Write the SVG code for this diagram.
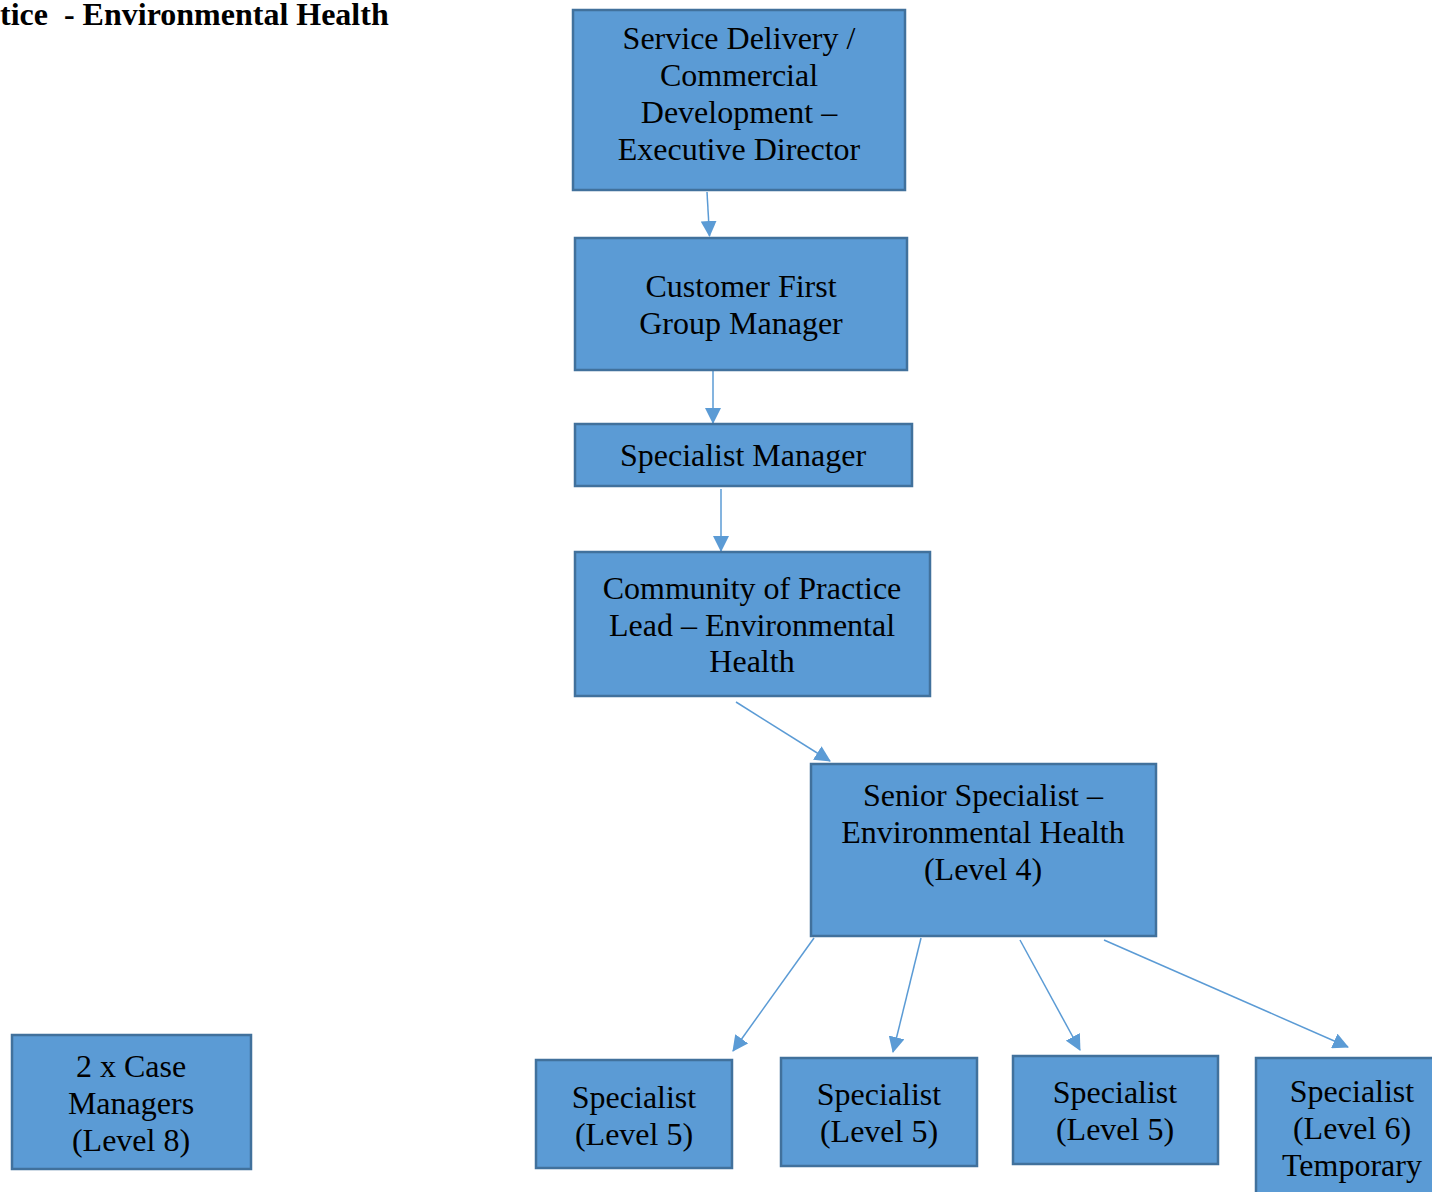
<svg xmlns="http://www.w3.org/2000/svg" width="1432" height="1192" viewBox="0 0 1432 1192">
<style>
.box{fill:#5B9BD5;stroke:#41719C;stroke-width:2.5}
.t{font-family:"Liberation Serif","Times New Roman",serif;font-size:32px;fill:#000;text-anchor:middle}
.title{font-family:"Liberation Serif","Times New Roman",serif;font-size:32px;font-weight:bold;fill:#000}
.c{stroke:#5B9BD5;stroke-width:1.5;fill:none;marker-end:url(#ah)}
</style>
<defs>
<marker id="ah" markerUnits="userSpaceOnUse" markerWidth="16" markerHeight="16" viewBox="0 0 16 16" refX="15" refY="8" orient="auto">
<path d="M0,0 L16,8 L0,16 Z" fill="#5B9BD5"/>
</marker>
</defs>
<rect width="1432" height="1192" fill="#fff"/>
<text class="title" x="0" y="25" xml:space="preserve">tice  - Environmental Health</text>
<g id="connectors">
<line class="c" x1="707" y1="192" x2="709.5" y2="236"/>
<line class="c" x1="713" y1="371" x2="713" y2="423"/>
<line class="c" x1="721" y1="489" x2="721" y2="551"/>
<line class="c" x1="736" y1="702" x2="830" y2="761"/>
<line class="c" x1="814" y1="938" x2="733" y2="1051"/>
<line class="c" x1="921" y1="938" x2="893" y2="1052"/>
<line class="c" x1="1020" y1="940" x2="1080" y2="1050"/>
<line class="c" x1="1104" y1="940" x2="1348" y2="1047"/>
</g>
<g id="n1"><rect class="box" x="573" y="10" width="332" height="180"/>
<text class="t" x="739" y="49">Service Delivery /</text>
<text class="t" x="739" y="86">Commercial</text>
<text class="t" x="739" y="123">Development –</text>
<text class="t" x="739" y="160">Executive Director</text></g>
<g id="n2"><rect class="box" x="575" y="238" width="332" height="132"/>
<text class="t" x="741" y="297">Customer First</text>
<text class="t" x="741" y="334">Group Manager</text></g>
<g id="n3"><rect class="box" x="575" y="424" width="337" height="62"/>
<text class="t" x="743" y="466">Specialist Manager</text></g>
<g id="n4"><rect class="box" x="575" y="552" width="355" height="144"/>
<text class="t" x="752" y="599">Community of Practice</text>
<text class="t" x="752" y="636">Lead – Environmental</text>
<text class="t" x="752" y="672">Health</text></g>
<g id="n5"><rect class="box" x="811" y="764" width="345" height="172"/>
<text class="t" x="983" y="806">Senior Specialist –</text>
<text class="t" x="983" y="843">Environmental Health</text>
<text class="t" x="983" y="880">(Level 4)</text></g>
<g id="n6"><rect class="box" x="536" y="1060" width="196" height="108"/>
<text class="t" x="634" y="1108">Specialist</text>
<text class="t" x="634" y="1145">(Level 5)</text></g>
<g id="n7"><rect class="box" x="781" y="1058" width="196" height="108"/>
<text class="t" x="879" y="1105">Specialist</text>
<text class="t" x="879" y="1142">(Level 5)</text></g>
<g id="n8"><rect class="box" x="1013" y="1056" width="205" height="108"/>
<text class="t" x="1115" y="1103">Specialist</text>
<text class="t" x="1115" y="1140">(Level 5)</text></g>
<g id="n9"><rect class="box" x="1256" y="1058" width="190" height="140"/>
<text class="t" x="1352" y="1102">Specialist</text>
<text class="t" x="1352" y="1139">(Level 6)</text>
<text class="t" x="1352" y="1176">Temporary</text></g>
<g id="n10"><rect class="box" x="12" y="1035" width="239" height="134"/>
<text class="t" x="131" y="1077">2 x Case</text>
<text class="t" x="131" y="1114">Managers</text>
<text class="t" x="131" y="1151">(Level 8)</text></g>
</svg>
